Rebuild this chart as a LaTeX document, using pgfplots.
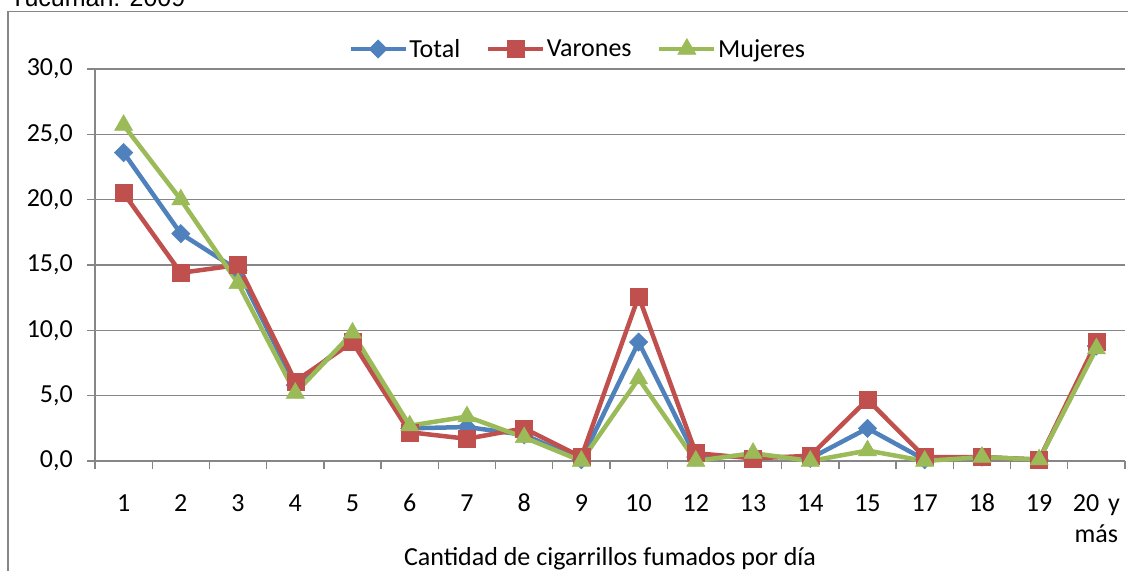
\documentclass[border=0pt]{standalone}
\usepackage{fontspec}
\setmainfont{Carlito}
\newfontfamily\arialfont{Liberation Sans}
\usepackage{pgfplots}
\pgfplotsset{compat=1.18}
\definecolor{cTot}{HTML}{4F81BD}
\definecolor{cVar}{HTML}{C0504D}
\definecolor{cMuj}{HTML}{9BBB59}
\definecolor{cGrid}{HTML}{868686}
\newcommand\cf{\fontsize{26bp}{31bp}\selectfont}
\begin{document}
\begin{tikzpicture}
\path[use as bounding box, clip] (0,0) rectangle (1128bp,571bp);
\draw[cGrid, line width=1.5bp] (8bp,-5bp) -- (8bp,559.5bp) -- (1135bp,559.5bp);
\node[anchor=base west, inner sep=0pt, font=\arialfont\fontsize{25bp}{30bp}\selectfont] at (10bp,564bp) {Tucumán: 2009};
\begin{axis}[
  at={(95bp,110bp)}, anchor=south west,
  scale only axis, width=1030bp, height=392bp,
  xmin=0.5, xmax=18.5, ymin=0, ymax=30,
  axis x line*=bottom, axis y line*=left,
  axis line style={cGrid, line width=1.3bp},
  tick align=outside,
  major tick length=8bp,
  tick style={cGrid, line width=1.3bp},
  xtick={0.5,1.5,...,18.5}, xticklabels={},
  extra x ticks={1,...,18},
  extra x tick labels={1,2,3,4,5,6,7,8,9,10,12,13,14,15,17,18,19,{\begin{tabular}[t]{@{}c@{}}20\hspace{0.12em} y\\más\end{tabular}}},
  extra x tick style={major tick length=0pt, tick style={draw=none}, grid=none},
  xticklabel style={font=\cf, anchor=base, inner sep=0pt, yshift=-50bp},
  ytick={0,5,...,30},
  ymajorgrids, grid style={cGrid, line width=1.3bp},
  yticklabel style={font=\cf, anchor=east, inner sep=0pt, xshift=-14bp,
    /pgf/number format/.cd, fixed, fixed zerofill, precision=1, use comma, assume math mode=true},
  xlabel={Cantidad de cigarrillos fumados por día},
  xlabel style={font=\cf, at={(axis description cs:0.5,0)}, anchor=base, yshift=-104bp, inner sep=0pt},
  legend style={at={(0.4684,1.051)}, anchor=center, draw=none, fill=none, font=\cf,
    nodes={inner sep=1.5bp}, /tikz/every even column/.append style={column sep=24bp}},
  legend columns=3, legend cell align=left,
  legend image code/.code={\draw[mark repeat=2,mark phase=2,#1] plot coordinates {(0bp,0bp) (27.5bp,0bp) (55bp,0bp)};},
  clip=false,
]
\addplot[cTot, line width=4.5bp, mark=square*, mark size=6.5bp, mark options={rotate=45, solid, line width=0.5bp}] coordinates {
(1,23.6) (2,17.4) (3,14.6) (4,5.8) (5,9.4) (6,2.5) (7,2.6) (8,2.0) (9,0.1) (10,9.1) (11,0.3) (12,0.4) (13,0.2) (14,2.5) (15,0.1) (16,0.3) (17,0.1) (18,8.8)};
\addlegendentry{Total}
\addplot[cVar, line width=4.5bp, mark=square*, mark size=8.5bp, mark options={solid, line width=0.5bp}] coordinates {
(1,20.5) (2,14.4) (3,15.0) (4,6.1) (5,9.1) (6,2.2) (7,1.7) (8,2.5) (9,0.3) (10,12.6) (11,0.6) (12,0.2) (13,0.4) (14,4.7) (15,0.3) (16,0.3) (17,0.1) (18,9.1)};
\addlegendentry{Varones}
\addplot[cMuj, line width=4.5bp, mark=triangle*, mark size=10.5bp, mark options={solid, line width=0.5bp}] coordinates {
(1,25.7) (2,20.0) (3,13.6) (4,5.2) (5,9.8) (6,2.7) (7,3.4) (8,1.8) (9,0.0) (10,6.3) (11,0.0) (12,0.6) (13,0.0) (14,0.8) (15,0.0) (16,0.3) (17,0.1) (18,8.6)};
\addlegendentry{Mujeres}
\end{axis}
\end{tikzpicture}
\end{document}
